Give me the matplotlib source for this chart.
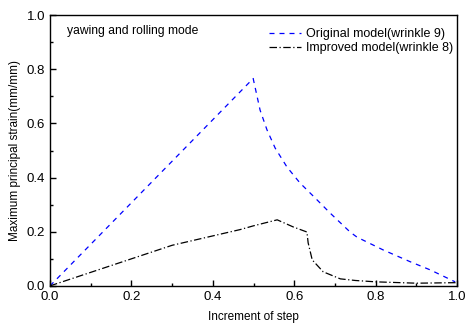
import numpy as np
import matplotlib.pyplot as plt
from matplotlib.ticker import MultipleLocator

plt.rcParams['font.family'] = ['Liberation Sans', 'DejaVu Sans']

# Original model (wrinkle 9)
orig_x = [0.0, 0.499, 0.516, 0.533, 0.553, 0.582, 0.614, 0.651, 0.688, 0.737,
          0.754, 0.818, 0.885, 0.934, 0.995]
orig_y = [0.0, 0.766, 0.649, 0.576, 0.509, 0.439, 0.380, 0.325, 0.269, 0.199,
          0.180, 0.133, 0.089, 0.059, 0.015]

# Improved model (wrinkle 8)
impr_x = [0.0, 0.3, 0.467, 0.5, 0.558, 0.597, 0.631, 0.634, 0.644, 0.671,
          0.713, 0.75, 0.8, 0.9, 1.0]
impr_y = [0.0, 0.15, 0.208, 0.222, 0.244, 0.218, 0.199, 0.159, 0.096, 0.052,
          0.026, 0.02, 0.015, 0.01, 0.012]

fig = plt.figure(figsize=(4.67, 3.29), dpi=100)
ax = fig.add_axes([0.107, 0.131, 0.872, 0.823])

ax.plot(orig_x, orig_y, color='blue', linestyle=(0, (4, 4)), linewidth=0.9,
        label='Original model(wrinkle 9)')
ax.plot(impr_x, impr_y, color='black', linestyle=(0, (6, 2, 1, 2)), linewidth=0.9,
        label='Improved model(wrinkle 8)')

ax.set_xlim(0, 1.0)
ax.set_ylim(0, 1.0)
ax.xaxis.set_major_locator(MultipleLocator(0.2))
ax.xaxis.set_minor_locator(MultipleLocator(0.1))
ax.yaxis.set_major_locator(MultipleLocator(0.2))
ax.yaxis.set_minor_locator(MultipleLocator(0.1))
ax.tick_params(which='both', direction='in', top=False, right=False,
               labelsize=9.5, width=1.0)
ax.tick_params(which='major', length=4)
ax.tick_params(which='minor', length=2.5)
for s in ax.spines.values():
    s.set_linewidth(1.0)

ax.set_xlabel('Increment of step', fontsize=8.5, labelpad=6)
ax.set_ylabel('Maximum principal strain(mm/mm)', fontsize=8.5, labelpad=4)

ax.text(0.042, 0.965, 'yawing and rolling mode', transform=ax.transAxes,
        fontsize=8.7, va='top', ha='left')
ax.legend(loc='upper right', frameon=False, fontsize=9, handlelength=2.6,
          handletextpad=0.4, labelspacing=0.2, borderaxespad=0.3,
          bbox_to_anchor=(1.012, 0.985))

fig.savefig('out.png', dpi=100)
